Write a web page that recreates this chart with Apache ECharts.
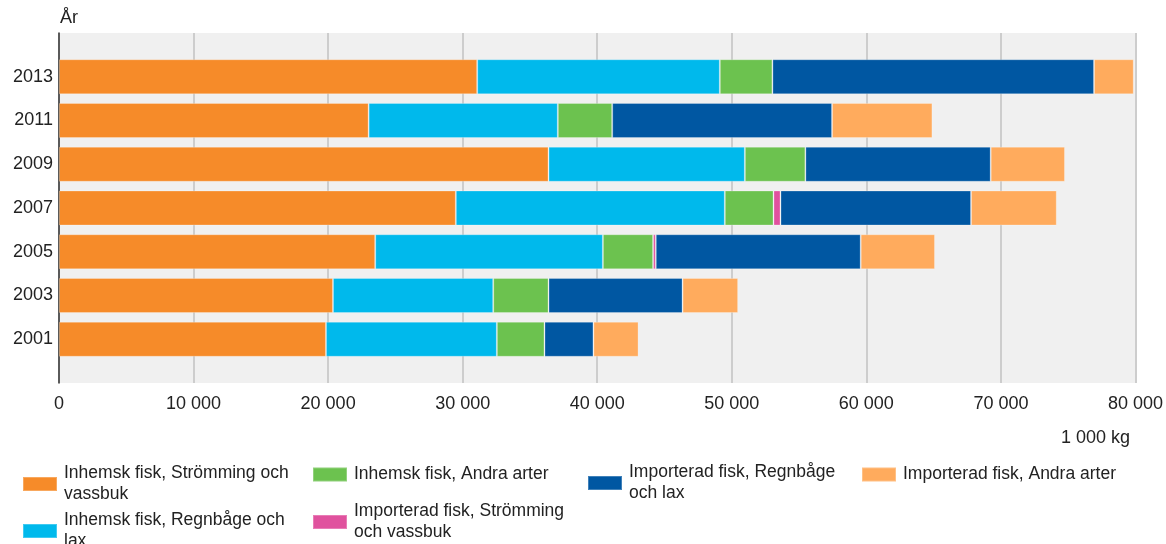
<!DOCTYPE html>
<html>
<head>
<meta charset="utf-8">
<script src="https://cdn.jsdelivr.net/npm/echarts@6/dist/echarts.min.js"></script>
<style>
  html, body { margin: 0; padding: 0; background: #fff; }
  #main { width: 1166px; height: 544px; }
</style>
</head>
<body>
<div id="main"></div>
<script>
// years, bottom to top
var years = ["2001", "2003", "2005", "2007", "2009", "2011", "2013"];

// 1 000 kg
var inhemskStromming = [19840, 20360, 23500, 29490, 36380, 23010, 31080];
var inhemskRegnbage  = [12700, 11910, 16920, 19990, 14590, 14060, 18030];
var inhemskAndra     = [3540, 4110, 3730, 3620, 4500, 4040, 3910];
var importStromming  = [0, 0, 200, 520, 0, 0, 0];
var importRegnbage   = [3640, 9960, 15230, 14160, 13770, 16340, 23900];
var importAndra      = [3350, 4130, 5520, 6370, 5520, 7460, 2950];

var seriesNames = [
  "Inhemsk fisk, Strömming och vassbuk",
  "Inhemsk fisk, Regnbåge och lax",
  "Inhemsk fisk, Andra arter",
  "Importerad fisk, Strömming och vassbuk",
  "Importerad fisk, Regnbåge och lax",
  "Importerad fisk, Andra arter"
];
var legendLabels = [
  "Inhemsk fisk, Strömming och\nvassbuk",
  "Inhemsk fisk, Regnbåge och\nlax",
  "Inhemsk fisk, Andra arter",
  "Importerad fisk, Strömming\noch vassbuk",
  "Importerad fisk, Regnbåge\noch lax",
  "Importerad fisk, Andra arter"
];
var colors = ["#f68b29", "#00b9ec", "#6cc24f", "#e0529e", "#0057a2", "#ffab5d"];
var seriesData = [inhemskStromming, inhemskRegnbage, inhemskAndra, importStromming, importRegnbage, importAndra];

var FONT = "'Liberation Sans', Arial, sans-serif";

// one empty slot above and below the years
var cats = [""].concat(years).concat([""]);
function pad(arr) {
  return [null].concat(arr.map(function (v) { return v === 0 ? null : v; })).concat([null]);
}

// legend placed column by column like the original
var legendPos = [[22, 463], [22, 510], [312, 464], [312, 501], [587, 462], [861, 464]];

var legends = [];
var series = [];
for (var i = 0; i < seriesNames.length; i++) {
  legends.push({
    data: [seriesNames[i]],
    left: legendPos[i][0],
    top: legendPos[i][1],
    padding: 0,
    itemWidth: 34,
    itemHeight: 14,
    icon: "rect",
    selectedMode: false,
    formatter: (function (lbl) { return function () { return lbl; }; })(legendLabels[i]),
    textStyle: {
      fontFamily: FONT,
      fontSize: 17.5,
      color: "#222",
      lineHeight: 21,
      padding: [0, 0, 0, 2]
    }
  });
  series.push({
    name: seriesNames[i],
    type: "bar",
    stack: "total",
    barWidth: 35,
    data: pad(seriesData[i]),
    itemStyle: {
      color: colors[i],
      borderColor: "rgba(255,255,255,0.25)",
      borderWidth: 1
    },
    emphasis: { disabled: true }
  });
}

var myChart = echarts.init(document.getElementById("main"));
myChart.setOption({
  animation: false,
  color: colors,
  title: {
    text: "1 000 kg",
    right: 36,
    top: 429,
    padding: 0,
    textStyle: { fontFamily: FONT, fontSize: 18, fontWeight: "normal", color: "#222" }
  },
  legend: legends,
  grid: {
    left: 59,
    right: 30,
    top: 33,
    bottom: 161,
    show: true,
    backgroundColor: "#f0f0f0",
    borderWidth: 0,
    containLabel: false
  },
  xAxis: {
    type: "value",
    min: 0,
    max: 80000,
    interval: 10000,
    axisLine: { show: false },
    axisTick: { show: false },
    splitLine: { show: true, lineStyle: { color: "#cdcdcd", width: 2 } },
    axisLabel: {
      margin: 12,
      fontFamily: FONT,
      fontSize: 18,
      color: "#222",
      formatter: function (v) {
        return String(v).replace(/\B(?=(\d{3})+(?!\d))/g, " ");
      }
    }
  },
  yAxis: {
    type: "category",
    data: cats,
    boundaryGap: false,
    name: "År",
    nameLocation: "end",
    nameGap: 6,
    nameTextStyle: { fontFamily: FONT, fontSize: 18, color: "#222", align: "left", padding: [0, 0, 0, 1] },
    axisLine: { show: true, lineStyle: { color: "#333", width: 1.5 } },
    axisTick: { show: false },
    splitLine: { show: false },
    axisLabel: { margin: 6, fontFamily: FONT, fontSize: 18, color: "#222" }
  },
  series: series
});
</script>
</body>
</html>
